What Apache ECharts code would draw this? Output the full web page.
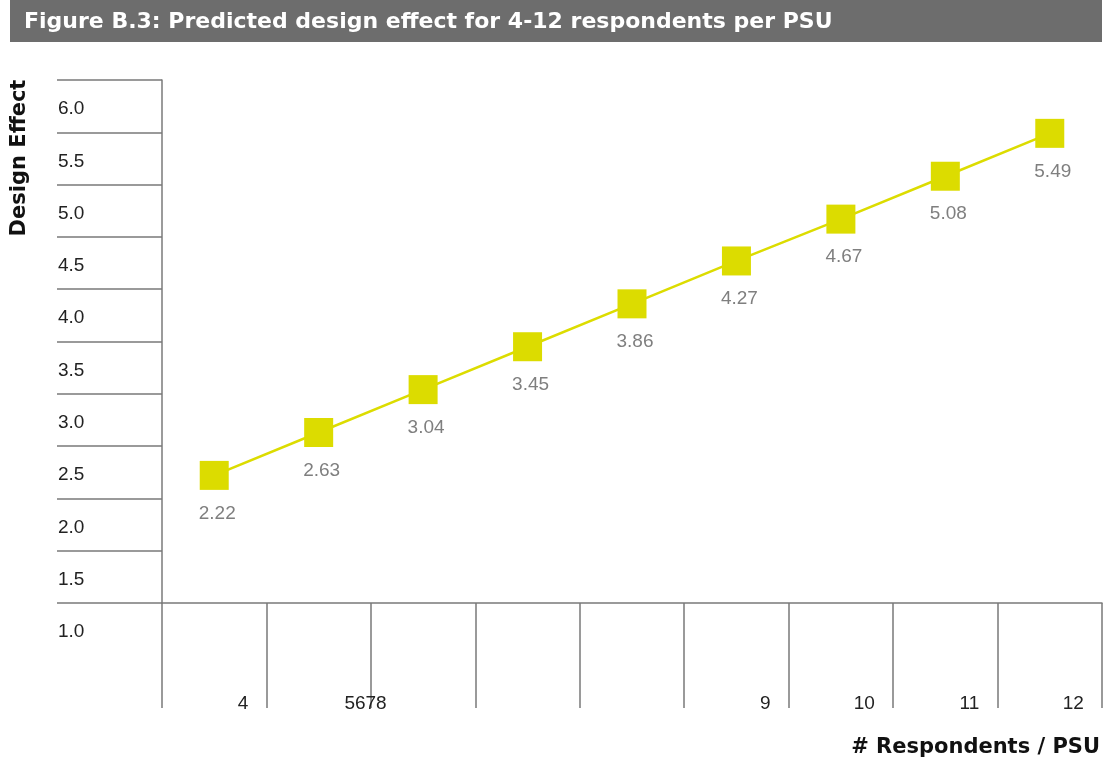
<!DOCTYPE html>
<html>
<head>
<meta charset="utf-8">
<title>Figure B.3</title>
<script src="https://cdn.jsdelivr.net/npm/echarts@6/dist/echarts.min.js"></script>
<style>
  html, body { margin: 0; padding: 0; background: #ffffff; }
  #chart { width: 1112px; height: 764px; }
</style>
</head>
<body>
<div id="chart"></div>
<script>
// Respondents per PSU (one category per band)
const categories = [4, 5, 6, 7, 8, 9, 10, 11, 12];
// Predicted design effect for each category
const designEffect = [2.22, 2.63, 3.04, 3.45, 3.86, 4.27, 4.67, 5.08, 5.49];
// Text shown under each band of the x axis
const xTickLabels = ['4', '5678', '', '', '', '9', '10', '11', '12'];

const FONT = '"Liberation Sans", "DejaVu Sans", sans-serif';
const BOLD_FONT = '"DejaVu Sans", "Liberation Sans", sans-serif';
const LINE_GREY = '#7a7a7a';
const MARK = '#dcdc00';

const chart = echarts.init(document.getElementById('chart'), null, { renderer: 'canvas' });

chart.setOption({
  backgroundColor: '#ffffff',
  animation: false,
  textStyle: { fontFamily: FONT },
  grid: { left: 162, right: 10, top: 80, bottom: 161, containLabel: false },
  xAxis: {
    type: 'category',
    data: categories,
    boundaryGap: true,
    axisLine: { show: true, lineStyle: { color: LINE_GREY, width: 1.5 } },
    axisTick: { show: true, interval: 0, length: 105, lineStyle: { color: LINE_GREY, width: 1.5 } },
    splitLine: { show: false },
    axisLabel: {
      interval: 0,
      margin: 91,
      align: 'center',
      color: '#222222',
      fontSize: 19,
      fontFamily: FONT,
      lineHeight: 20,
      formatter: function (value, index) {
        const t = xTickLabels[index];
        if (!t) return '';
        return (t.length > 2 ? '{wide|' : '{std|') + t + '}';
      },
      rich: {
        std: { width: 68, align: 'right', fontSize: 19, color: '#222222', fontFamily: FONT },
        wide: { width: 136, align: 'right', fontSize: 19, color: '#222222', fontFamily: FONT }
      }
    }
  },
  yAxis: {
    type: 'value',
    min: 1,
    max: 6,
    interval: 0.5,
    axisLine: { show: true, lineStyle: { color: LINE_GREY, width: 1.5 } },
    axisTick: { show: true, inside: false, length: 105, lineStyle: { color: LINE_GREY, width: 1.5 } },
    splitLine: { show: false },
    axisLabel: {
      showMinLabel: true,
      showMaxLabel: true,
      margin: 104,
      align: 'left',
      verticalAlign: 'top',
      lineHeight: 46,
      padding: [6, 0, 0, 0],
      color: '#222222',
      fontSize: 19,
      fontFamily: FONT,
      formatter: function (v) { return v.toFixed(1); }
    }
  },
  series: [{
    type: 'line',
    data: designEffect,
    symbol: 'rect',
    symbolSize: 29,
    itemStyle: { color: MARK },
    lineStyle: { color: MARK, width: 2.5 },
    label: {
      show: true,
      position: 'bottom',
      distance: 14,
      offset: [3, 0],
      color: '#7f7f7f',
      fontSize: 19,
      fontFamily: FONT,
      formatter: function (p) { return p.value.toFixed(2); }
    },
    z: 3
  }],
  graphic: [
    {
      type: 'rect',
      shape: { x: 10, y: 0, width: 1092, height: 42 },
      style: { fill: '#6d6d6d' },
      z: 10
    },
    {
      type: 'text',
      x: 24, y: 22,
      style: {
        text: 'Figure B.3: Predicted design effect for 4-12 respondents per PSU',
        fill: '#ffffff',
        font: 'bold 22px ' + BOLD_FONT,
        verticalAlign: 'middle',
        align: 'left'
      },
      z: 11
    },
    {
      type: 'text',
      x: 20, y: 158,
      rotation: Math.PI / 2,
      style: {
        text: 'Design Effect',
        fill: '#111111',
        font: 'bold 21px ' + BOLD_FONT,
        align: 'center',
        verticalAlign: 'middle'
      }
    },
    {
      type: 'text',
      x: 1100, y: 748,
      style: {
        text: '# Respondents / PSU',
        fill: '#111111',
        font: 'bold 21px ' + BOLD_FONT,
        align: 'right',
        verticalAlign: 'middle'
      }
    }
  ]
});
</script>
</body>
</html>
